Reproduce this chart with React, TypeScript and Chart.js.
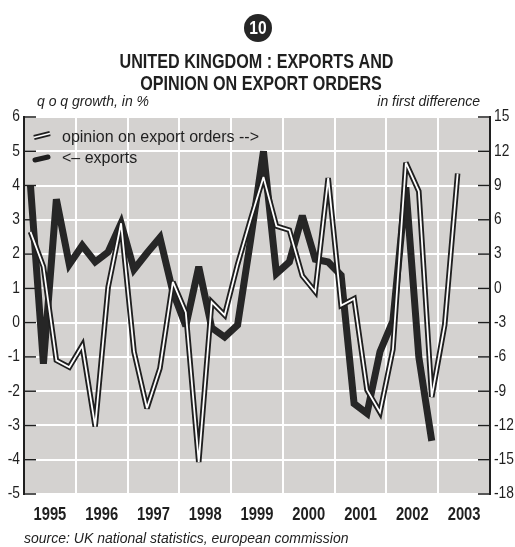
import { useEffect, useRef } from 'react';
import { Chart, registerables } from 'chart.js';

Chart.register(...registerables);

// ---- data ----
const YEARS = ['1995', '1996', '1997', '1998', '1999', '2000', '2001', '2002', '2003'];
const QUARTERS = ['Q1', 'Q2', 'Q3', 'Q4'];

// q o q growth, in % (left axis), 1995Q1 .. 2002Q4
const EXPORTS = [
  4.0, -1.2, 3.6, 1.7,
  2.25, 1.77, 2.06, 2.9,
  1.55, 2.03, 2.48, 0.9,
  -0.1, 1.63, -0.15, -0.42,
  -0.07, 2.4, 5.0, 1.43,
  1.77, 3.12, 1.85, 1.77,
  1.38, -2.36, -2.65, -0.85,
  0.05, 3.95, -1.0, -3.45,
];

// opinion on export orders, in first difference (right axis), 1995Q1 .. 2003Q2
const OPINION = [
  4.95, 1.9, -6.3, -6.9,
  -5.0, -12.1, 0.1, 5.7,
  -5.55, -10.5, -7.0, 0.57,
  -2.1, -15.2, -1.2, -2.35,
  2.1, 6.0, 9.75, 5.45,
  5.1, 1.1, -0.3, 9.65,
  -1.5, -0.9, -8.9, -10.85,
  -5.35, 11.0, 8.5, -9.5,
  -3.2, 10.05,
];

const LEFT_MIN = -5;
const LEFT_MAX = 6;
const LEFT_STEP = 1;
const RIGHT_MIN = -18;
const RIGHT_MAX = 15;
const RIGHT_STEP = 3;

const TITLE_1 = 'UNITED KINGDOM : EXPORTS AND';
const TITLE_2 = 'OPINION ON EXPORT ORDERS';
const BADGE = '10';
const LEFT_TITLE = 'q o q growth, in %';
const RIGHT_TITLE = 'in first difference';
const LEGEND_OPINION = 'opinion on export orders -->';
const LEGEND_EXPORTS = '<\u2013 exports';
const SOURCE = 'source: UK national statistics, european commission';

const QUARTER_LABELS = YEARS.flatMap((y) => QUARTERS.map((q) => `${y} ${q}`));

const SANS = "'Liberation Sans', Arial, sans-serif";
const INK = '#1f1f1f';
const PLOT_BG = '#d4d2d0';
const NARROW_K = 0.82;

function narrowText(ctx: any, text: string, x: number, y: number, align: string, font: string, k = NARROW_K) {
  ctx.save();
  ctx.font = font;
  ctx.textAlign = align;
  ctx.translate(x, y);
  ctx.scale(k, 1);
  ctx.fillText(text, 0, 0);
  ctx.restore();
}

const overlay = {
  id: 'overlay',
  beforeDraw(chart: any) {
    const { ctx, chartArea: a } = chart;
    ctx.save();
    ctx.fillStyle = PLOT_BG;
    ctx.fillRect(a.left, a.top, a.right - a.left, a.bottom - a.top);
    ctx.restore();
  },
  beforeDatasetsDraw(chart: any) {
    const { ctx, chartArea: a } = chart;
    const yl = chart.scales.y;
    const yr = chart.scales.y1;
    ctx.save();
    ctx.strokeStyle = INK;
    ctx.lineWidth = 1.5;
    yl.ticks.forEach((t: any) => {
      const py = yl.getPixelForValue(t.value);
      ctx.beginPath();
      ctx.moveTo(a.left, py);
      ctx.lineTo(a.left + 12, py);
      ctx.stroke();
    });
    yr.ticks.forEach((t: any) => {
      const py = yr.getPixelForValue(t.value);
      ctx.beginPath();
      ctx.moveTo(a.right - 12, py);
      ctx.lineTo(a.right, py);
      ctx.stroke();
    });
    ctx.restore();
    ctx.miterLimit = 3;
  },
  afterDraw(chart: any) {
    const { ctx, chartArea: a } = chart;
    ctx.save();
    ctx.fillStyle = INK;
    ctx.textBaseline = 'middle';
    // y tick labels
    const yl = chart.scales.y;
    const yr = chart.scales.y1;
    yl.ticks.forEach((t: any) => {
      narrowText(ctx, String(t.value), a.left - 4, yl.getPixelForValue(t.value), 'right', `16px ${SANS}`, 0.86);
    });
    yr.ticks.forEach((t: any) => {
      narrowText(ctx, String(t.value), a.right + 4, yr.getPixelForValue(t.value), 'left', `16px ${SANS}`, 0.86);
    });
    // year labels
    const x2 = chart.scales.x2;
    ctx.textBaseline = 'alphabetic';
    YEARS.forEach((yr2, i) => {
      narrowText(ctx, yr2, x2.getPixelForValue(i), 520, 'center', `bold 18px ${SANS}`);
    });

    // badge
    ctx.fillStyle = '#262626';
    ctx.beginPath();
    ctx.arc(258, 28, 14, 0, Math.PI * 2);
    ctx.fill();
    ctx.fillStyle = '#ffffff';
    ctx.textBaseline = 'middle';
    narrowText(ctx, BADGE, 258, 29, 'center', `bold 19px ${SANS}`);

    // title
    ctx.fillStyle = INK;
    ctx.textBaseline = 'alphabetic';
    narrowText(ctx, TITLE_1, 256.5, 68, 'center', `bold 21px ${SANS}`, 0.77);
    narrowText(ctx, TITLE_2, 261, 90, 'center', `bold 21px ${SANS}`, 0.77);

    // axis titles
    ctx.font = `italic 14px ${SANS}`;
    ctx.textAlign = 'left';
    ctx.fillText(LEFT_TITLE, 37, 106);
    ctx.textAlign = 'right';
    ctx.fillText(RIGHT_TITLE, 480, 106);

    // legend
    ctx.lineCap = 'butt';
    ctx.strokeStyle = INK;
    ctx.lineWidth = 5;
    ctx.beginPath();
    ctx.moveTo(34, 137.5);
    ctx.lineTo(50, 133.5);
    ctx.stroke();
    ctx.strokeStyle = '#ffffff';
    ctx.lineWidth = 1.6;
    ctx.beginPath();
    ctx.moveTo(34, 137.5);
    ctx.lineTo(50, 133.5);
    ctx.stroke();
    ctx.strokeStyle = INK;
    ctx.lineWidth = 5;
    ctx.lineCap = 'round';
    ctx.beginPath();
    ctx.moveTo(35, 160);
    ctx.lineTo(48, 157);
    ctx.stroke();

    ctx.fillStyle = INK;
    ctx.textAlign = 'left';
    ctx.font = `16px ${SANS}`;
    ctx.fillText(LEGEND_OPINION, 62, 142);
    ctx.fillText(LEGEND_EXPORTS, 62, 163);

    // source
    ctx.font = `italic 14px ${SANS}`;
    ctx.fillText(SOURCE, 24, 543);
    ctx.restore();
  },
};

export default function App() {
  const ref = useRef<HTMLCanvasElement | null>(null);

  useEffect(() => {
    if (!ref.current) return;
    const chart = new Chart(ref.current, {
      type: 'line',
      data: {
        labels: QUARTER_LABELS,
        datasets: [
          {
            label: 'opinion inner',
            data: OPINION,
            yAxisID: 'y1',
            xAxisID: 'x',
            borderColor: '#ffffff',
            borderWidth: 1.8,
            pointRadius: 0,
            tension: 0,
            order: 0,
          },
          {
            label: 'opinion on export orders',
            data: OPINION,
            yAxisID: 'y1',
            xAxisID: 'x',
            borderColor: INK,
            borderWidth: 5.5,
            pointRadius: 0,
            tension: 0,
            order: 1,
          },
          {
            label: 'exports',
            data: EXPORTS,
            yAxisID: 'y',
            xAxisID: 'x',
            borderColor: '#262626',
            borderWidth: 7,
            borderJoinStyle: 'miter',
            pointRadius: 0,
            tension: 0,
            order: 2,
          },
        ],
      },
      options: {
        responsive: false,
        animation: false,
        devicePixelRatio: 1,
        layout: { padding: { top: 117, left: 0, right: 0, bottom: 0 } },
        plugins: {
          legend: { display: false },
          tooltip: { enabled: false },
        },
        scales: {
          x: {
            type: 'category',
            position: 'bottom',
            offset: true,
            grid: {
              offset: true,
              drawTicks: false,
              lineWidth: 2,
              color: (c: any) => (c.index % 4 === 0 ? '#ffffff' : 'rgba(0,0,0,0)'),
            },
            border: { display: false },
            ticks: { display: false, autoSkip: false },
            afterFit: (s: any) => {
              s.height = 0;
            },
          },
          x2: {
            type: 'category',
            position: 'bottom',
            labels: YEARS,
            offset: true,
            grid: { display: false, drawTicks: false },
            border: { display: false },
            ticks: { display: false, autoSkip: false },
            afterFit: (s: any) => {
              s.height = 53;
            },
          },
          y: {
            type: 'linear',
            position: 'left',
            min: LEFT_MIN,
            max: LEFT_MAX,
            ticks: { stepSize: LEFT_STEP, display: false },
            grid: { color: '#ffffff', lineWidth: 2, drawTicks: false },
            border: { display: true, color: INK, width: 2 },
            afterFit: (s: any) => {
              s.width = 24;
            },
          },
          y1: {
            type: 'linear',
            position: 'right',
            min: RIGHT_MIN,
            max: RIGHT_MAX,
            ticks: { stepSize: RIGHT_STEP, display: false },
            grid: { display: false, drawTicks: false },
            border: { display: true, color: INK, width: 2 },
            afterFit: (s: any) => {
              s.width = 25;
            },
          },
        },
      },
      plugins: [overlay],
    } as any);
    return () => chart.destroy();
  }, []);

  return (
    <div style={{ position: 'absolute', left: 0, top: 0, width: 515, height: 547, background: '#ffffff' }}>
      <canvas ref={ref} width={515} height={547} style={{ display: 'block', width: 515, height: 547 }} />
    </div>
  );
}
